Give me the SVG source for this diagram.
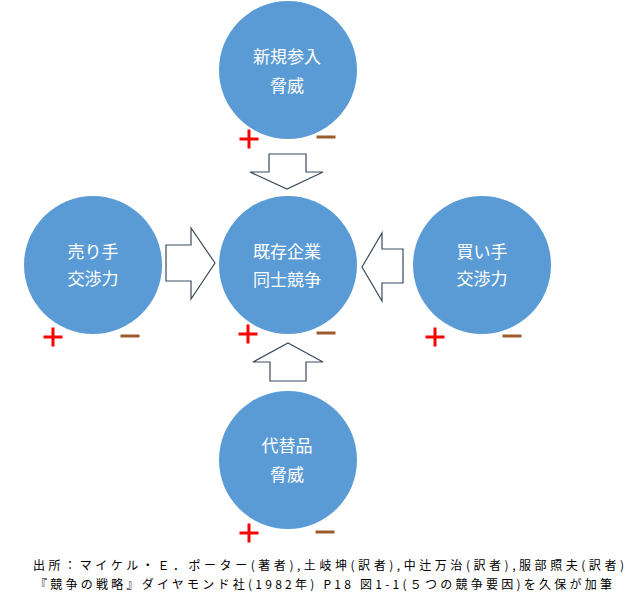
<svg xmlns="http://www.w3.org/2000/svg" xmlns:xlink="http://www.w3.org/1999/xlink" width="629" height="601" viewBox="0 0 629 601">
<style>
.node{fill:#5B9BD5;}
.lbl{font-family:"Noto Sans CJK JP","Noto Sans",sans-serif;font-size:17px;fill:#FFFFFF;text-anchor:middle;}
.arrow{fill:#FFFFFF;stroke:#3A4A5C;stroke-width:1.2;stroke-linejoin:miter;}
.src{font-family:"Noto Sans CJK JP","Noto Sans",sans-serif;font-size:12px;fill:#000000;}
.pl{stroke:#FF0000;stroke-width:3;}
.mn{stroke:#9C5B2E;stroke-width:3;}
</style>
<defs>
<g id="plus"><line class="pl" x1="-9.5" y1="0" x2="9.5" y2="0"/><line class="pl" x1="0" y1="-9.5" x2="0" y2="9.5"/></g>
<g id="minus"><line class="mn" x1="-9.5" y1="0" x2="9.5" y2="0"/></g>
</defs>
<rect width="629" height="601" fill="#FFFFFF"/>

<g id="connectors">
<polygon class="arrow" points="269,154 306,154 306,172 323,172 287,189 250,172 269,172"/>
<polygon class="arrow" points="270,381 306,381 306,362 323,362 288,343 253,362 270,362"/>
<polygon class="arrow" points="166,245 191,245 191,228 215,263 191,299 191,281 166,281"/>
<polygon class="arrow" points="403,249 382,249 382,233 362,267 382,301 382,283 403,283"/>
</g>

<g id="node-new-entrants">
<circle class="node" cx="288" cy="70" r="69"/>
<text class="lbl" x="287" y="63">新規参入</text>
<text class="lbl" x="287" y="92">脅威</text>
<use xlink:href="#plus" x="249" y="139"/>
<use xlink:href="#minus" x="326" y="137"/>
</g>

<g id="node-rivalry">
<circle class="node" cx="288" cy="265" r="69"/>
<text class="lbl" x="287" y="258">既存企業</text>
<text class="lbl" x="287" y="286">同士競争</text>
<use xlink:href="#plus" x="248" y="334"/>
<use xlink:href="#minus" x="326" y="333"/>
</g>

<g id="node-suppliers">
<circle class="node" cx="93" cy="265" r="69"/>
<text class="lbl" x="93" y="258">売り手</text>
<text class="lbl" x="93" y="285">交渉力</text>
<use xlink:href="#plus" x="53" y="337"/>
<use xlink:href="#minus" x="130" y="336"/>
</g>

<g id="node-buyers">
<circle class="node" cx="482" cy="265" r="69"/>
<text class="lbl" x="482" y="258">買い手</text>
<text class="lbl" x="482" y="285">交渉力</text>
<use xlink:href="#plus" x="435" y="337"/>
<use xlink:href="#minus" x="512" y="336"/>
</g>

<g id="node-substitutes">
<circle class="node" cx="288" cy="460" r="69"/>
<text class="lbl" x="287" y="452">代替品</text>
<text class="lbl" x="287" y="481">脅威</text>
<use xlink:href="#plus" x="249" y="533"/>
<use xlink:href="#minus" x="325" y="532"/>
</g>

<g id="source">
<text class="src" x="33" y="570" textLength="591" lengthAdjust="spacing">出所：マイケル・Ｅ．ポーター(著者),土岐坤(訳者),中辻万治(訳者),服部照夫(訳者)</text>
<text class="src" x="35" y="589" textLength="577" lengthAdjust="spacing">『競争の戦略』ダイヤモンド社(1982年) P18 図1-1(５つの競争要因)を久保が加筆</text>
</g>
</svg>
